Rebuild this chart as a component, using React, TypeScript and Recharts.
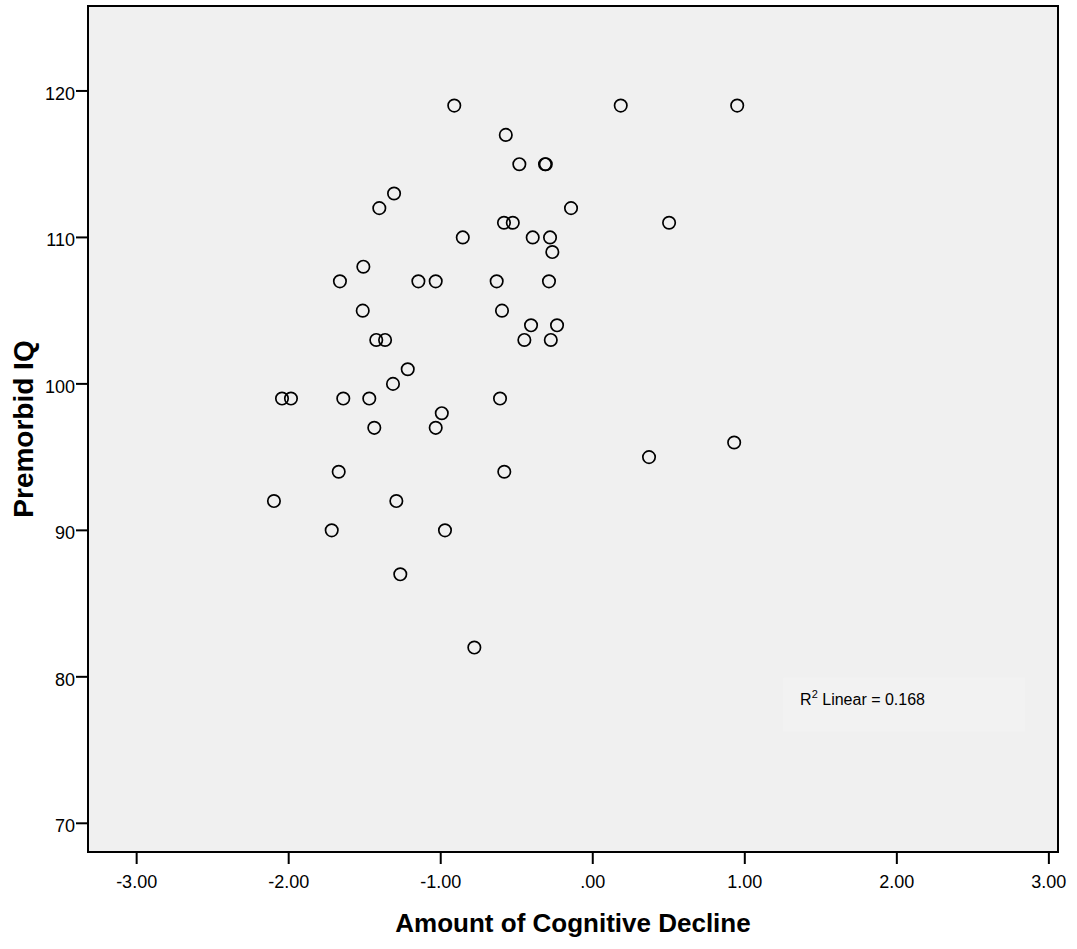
import React from 'react';
import { ScatterChart, Scatter, XAxis, YAxis, CartesianGrid, ReferenceArea } from 'recharts';

const declineValues = [
  -0.911, 0.184, 0.95, -0.572, -0.483, -0.309, -0.314, -1.307, -1.404, -0.143,
  -0.584, -0.526, 0.502, -0.855, -0.395, -0.281, -0.266, -1.509, -1.663, -1.147,
  -1.033, -0.632, -0.288, -1.513, -0.597, -0.406, -0.235, -1.424, -1.366, -0.45,
  -0.276, -1.217, -1.314, -2.044, -1.985, -1.641, -1.47, -0.61, -0.993, -1.437,
  -1.033, 0.93, 0.37, -1.671, -0.582, -2.097, -1.292, -1.717, -0.972, -1.266,
  -0.779,
];
const iqValues = [
  119, 119, 119, 117, 115, 115, 115, 113, 112, 112,
  111, 111, 111, 110, 110, 110, 109, 108, 107, 107,
  107, 107, 107, 105, 105, 104, 104, 103, 103, 103,
  103, 101, 100, 99, 99, 99, 99, 99, 98, 97,
  97, 96, 95, 94, 94, 92, 92, 90, 90, 87,
  82,
];
const xTicks = [-3, -2, -1, 0, 1, 2, 3];
const yTicks = [70, 80, 90, 100, 110, 120];
const xDomain: [number, number] = [-3.32, 3.06];
const yDomain: [number, number] = [68.04, 125.8];
const r2Text = 'Linear = 0.168';
const r2Box = { x1: 1.252, x2: 2.844, y1: 79.93, y2: 76.25 };

const points = declineValues.map((x, i) => ({ x, y: iqValues[i] }));

const FONT = '"Liberation Sans", Arial, sans-serif';

const fmtX = (v: number) => (v === 0 ? '.00' : v.toFixed(2));

const XTick = (props: any) => {
  const { x, y, payload } = props;
  return (
    <text x={x} y={y} dy={22} textAnchor="middle" fontSize={18} fontFamily={FONT} fill="#000">
      {fmtX(payload.value)}
    </text>
  );
};

const YTick = (props: any) => {
  const { x, y, payload } = props;
  return (
    <text x={x + 1} y={y} dy={9} textAnchor="end" fontSize={18} fontFamily={FONT} fill="#000">
      {payload.value}
    </text>
  );
};

const Circle = (props: any) => {
  const { cx, cy } = props;
  return <circle cx={cx} cy={cy} r={6.2} fill="none" stroke="#000" strokeWidth={1.7} />;
};

const R2Label = (props: any) => {
  const vb = props.viewBox || {};
  return (
    <text x={vb.x + 17} y={vb.y + 27} fontSize={16} fontFamily={FONT} fill="#000">
      R<tspan fontSize={11} dy={-7}>2</tspan>
      <tspan dy={7}> {r2Text}</tspan>
    </text>
  );
};

const XTitle = (props: any) => {
  const vb = props.viewBox || {};
  return (
    <text x={vb.x + vb.width / 2} y={vb.y + 80} textAnchor="middle" fontSize={26} fontWeight="bold" fontFamily={FONT} fill="#000">
      Amount of Cognitive Decline
    </text>
  );
};

const YTitle = (props: any) => {
  const vb = props.viewBox || {};
  const cx = vb.x + 33;
  const cy = vb.y + vb.height / 2;
  return (
    <text x={cx} y={cy} transform={`rotate(-90, ${cx}, ${cy})`} textAnchor="middle" fontSize={28} fontWeight="bold" fontFamily={FONT} fill="#000">
      Premorbid IQ
    </text>
  );
};

export default function App() {
  return (
    <div style={{ position: 'absolute', left: 0, top: 0, background: '#fff' }}>
      <ScatterChart width={1077} height={949} margin={{ top: 6, right: 19, bottom: 0, left: 0 }}>
        <CartesianGrid fill="#f0f0f0" horizontal={false} vertical={false} />
        <XAxis
          type="number"
          dataKey="x"
          domain={xDomain}
          ticks={xTicks}
          allowDataOverflow
          height={97}
          axisLine={false}
          tickSize={12}
          tickMargin={2}
          tickLine={{ stroke: '#000', strokeWidth: 2 }}
          tick={<XTick />}
          label={<XTitle />}
          interval={0}
        />
        <YAxis
          type="number"
          dataKey="y"
          domain={yDomain}
          ticks={yTicks}
          allowDataOverflow
          width={88}
          axisLine={false}
          tickSize={12}
          tickMargin={2}
          tickLine={{ stroke: '#000', strokeWidth: 2 }}
          tick={<YTick />}
          label={<YTitle />}
          interval={0}
        />
        <ReferenceArea
          x1={r2Box.x1}
          x2={r2Box.x2}
          y1={r2Box.y1}
          y2={r2Box.y2}
          fill="#f2f2f2"
          fillOpacity={1}
          stroke="none"
          label={<R2Label />}
        />
        <ReferenceArea
          x1={xDomain[0]}
          x2={xDomain[1]}
          y1={yDomain[0]}
          y2={yDomain[1]}
          fill="none"
          stroke="#000"
          strokeWidth={2}
        />
        <Scatter data={points} shape={<Circle />} isAnimationActive={false} />
      </ScatterChart>
    </div>
  );
}
